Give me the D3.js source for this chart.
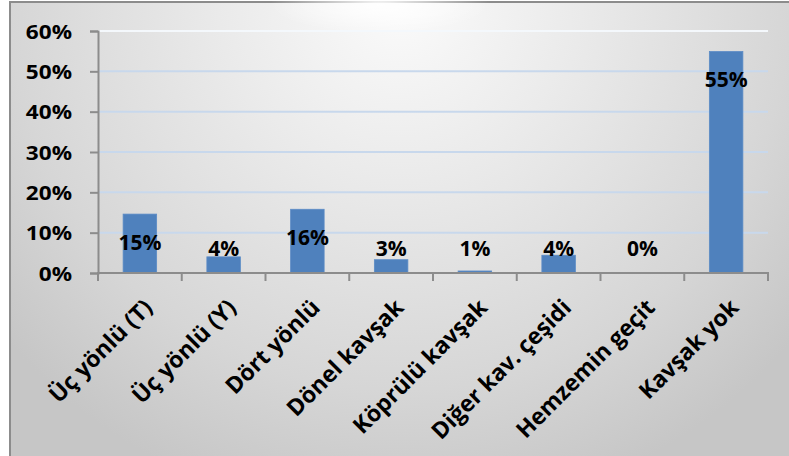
<!DOCTYPE html>
<html><head><meta charset="utf-8">
<script src="https://cdn.jsdelivr.net/npm/d3@7"></script>
<style>body{margin:0;background:#fff}svg{display:block}</style>
</head><body>
<svg id="c" width="789" height="456"></svg>
<script>
const categories = ["Üç yönlü (T)","Üç yönlü (Y)","Dört yönlü","Dönel kavşak","Köprülü kavşak","Diğer kav. çeşidi","Hemzemin geçit","Kavşak yok"];
const values = [0.146, 0.040, 0.158, 0.033, 0.005, 0.044, 0.0, 0.549];
const valueLabels = ["15%","4%","16%","3%","1%","4%","0%","55%"];
const yTicks = [0,0.1,0.2,0.3,0.4,0.5,0.6];
const yTickLabels = ["0%","10%","20%","30%","40%","50%","60%"];

const FONT = "'Open Sans'";
const svg = d3.select("#c");
const defs = svg.append("defs");
const rg = defs.append("radialGradient").attr("id","bg")
  .attr("gradientUnits","userSpaceOnUse").attr("cx",400).attr("cy",0).attr("r",520)
  .attr("fx",400).attr("fy",0);
rg.append("stop").attr("offset","0").attr("stop-color","#fbfbfb");
rg.append("stop").attr("offset","0.35").attr("stop-color","#eaeaea");
rg.append("stop").attr("offset","0.75").attr("stop-color","#d6d6d6");
rg.append("stop").attr("offset","1").attr("stop-color","#c6c6c6");
const gl = defs.append("radialGradient").attr("id","glare");
gl.append("stop").attr("offset","0").attr("stop-color","#ffffff").attr("stop-opacity",0.95);
gl.append("stop").attr("offset","1").attr("stop-color","#ffffff").attr("stop-opacity",0);

svg.append("rect").attr("x",10).attr("y",2).attr("width",790).attr("height",470)
  .attr("fill","url(#bg)").attr("stroke","#8c8c8c").attr("stroke-width",2);
svg.append("ellipse").attr("cx",380).attr("cy",5).attr("rx",110).attr("ry",28).attr("fill","url(#glare)");

const x = d3.scaleBand().domain(categories).range([98,768]).paddingInner(0.6).paddingOuter(0.3);
const y = d3.scaleLinear().domain([0,0.6]).range([273,31]);

// gridlines
svg.append("g").selectAll("line").data(yTicks.slice(1)).join("line")
  .attr("x1",98).attr("x2",768).attr("y1",d=>y(d)).attr("y2",d=>y(d))
  .attr("stroke",d=> d===0.6 ? "#f4f8fc" : "#c8d8ec").attr("stroke-width",2);

// bars
svg.append("g").selectAll("rect").data(values).join("rect")
  .attr("x",(d,i)=>x(categories[i])).attr("width",x.bandwidth())
  .attr("y",d=>y(d)).attr("height",d=>y(0)-y(d))
  .attr("fill","#4f81bd").attr("stroke","#5b8bc6").attr("stroke-width",0.8);

// y axis
const yAxis = d3.axisLeft(y).tickValues(yTicks).tickSize(8).tickFormat((d,i)=>yTickLabels[i]);
const ga = svg.append("g").attr("transform","translate(98,0)").call(yAxis);
ga.select(".domain").attr("stroke","#8c8c8c").attr("stroke-width",2);
ga.selectAll(".tick line").attr("stroke","#8c8c8c").attr("stroke-width",2);
ga.selectAll(".tick text").remove();
ga.selectAll(".tick").append("text")
  .attr("transform","translate(-26,0) scale(1.13,1)")
  .attr("text-anchor","end").attr("dy","0.36em")
  .attr("font-family",FONT).attr("font-weight","700").attr("font-size",20).attr("fill","#000")
  .text((d,i)=>yTickLabels[i]);

// x axis
const xa = svg.append("g");
xa.append("line").attr("x1",97).attr("x2",769).attr("y1",273).attr("y2",273).attr("stroke","#8c8c8c").attr("stroke-width",2);
const bounds = categories.map(c=>x(c)-x.step()*x.paddingInner()/2).concat([768]);
xa.selectAll("line.t").data(bounds).join("line").attr("class","t")
  .attr("x1",d=>d).attr("x2",d=>d).attr("y1",273).attr("y2",281)
  .attr("stroke","#8c8c8c").attr("stroke-width",2);
xa.selectAll("text").data(categories).join("text")
  .attr("transform",d=>`translate(${x(d)+x.bandwidth()/2+14},${309}) rotate(-45)`)
  .attr("text-anchor","end")
  .attr("font-family",FONT).attr("font-weight","700").attr("font-size",23).attr("fill","#000")
  .text(d=>d);

// data labels
svg.append("g").selectAll("text").data(values).join("text")
  .attr("transform",(d,i)=>`translate(${x(categories[i])+x.bandwidth()/2},${Math.min(y(d)+28, y(0)-25)})`)
  .attr("text-anchor","middle").attr("dy","0.36em")
  .attr("font-family",FONT).attr("font-weight","700").attr("font-size",21).attr("fill","#000")
  .text((d,i)=>valueLabels[i]);
</script>
</body></html>
